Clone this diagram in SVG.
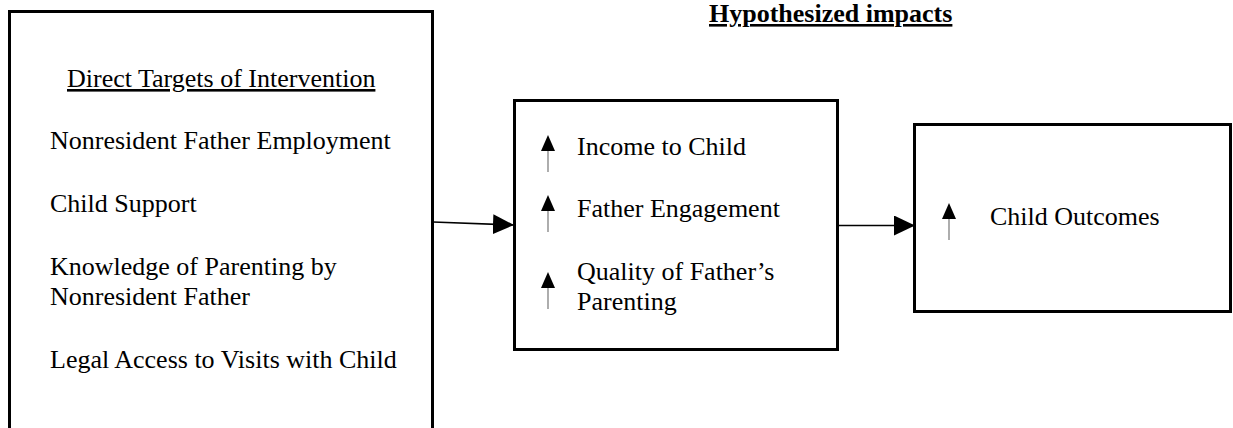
<svg xmlns="http://www.w3.org/2000/svg" width="1233" height="428" viewBox="0 0 1233 428">
<style>
.box{fill:#fff;stroke:#000;stroke-width:3}
.t{font-family:"Liberation Serif","Times New Roman",serif;font-size:26px;fill:#000}
.u{text-decoration:underline}
.b{font-weight:bold}
.conn{stroke:#000;stroke-width:1.6;fill:none}
.up{stroke:#777;stroke-width:1.2}
</style>
<defs>
<marker id="ah" markerUnits="userSpaceOnUse" markerWidth="22" markerHeight="22" refX="21" refY="10" orient="auto">
<path d="M0,0 L21,10 L0,20 Z" fill="#000"/>
</marker>
<g id="uparrow">
<line class="up" x1="0" y1="14" x2="0" y2="37"/>
<path d="M-7,16 L0,0 L7,16 Z" fill="#000"/>
</g>
</defs>
<rect width="1233" height="428" fill="#fff"/>
<text id="heading" class="t b u" x="709" y="22">Hypothesized impacts</text>
<g id="connectors">
<path class="conn" d="M433,222 L514,225" marker-end="url(#ah)"/>
<path class="conn" d="M838,225.5 L915,225.5" marker-end="url(#ah)"/>
</g>
<g id="targets">
<rect class="box" x="9.5" y="11.5" width="423" height="430"/>
<text class="t u" x="67" y="87">Direct Targets of Intervention</text>
<text class="t" x="50" y="149">Nonresident Father Employment</text>
<text class="t" x="50" y="212">Child Support</text>
<text class="t" x="50" y="275">Knowledge of Parenting by</text>
<text class="t" x="50" y="305">Nonresident Father</text>
<text class="t" x="50" y="368">Legal Access to Visits with Child</text>
</g>
<g id="impacts">
<rect class="box" x="514.5" y="100.5" width="323" height="249"/>
<use href="#uparrow" x="548" y="135"/>
<text class="t" x="577" y="155">Income to Child</text>
<use href="#uparrow" x="548" y="195"/>
<text class="t" x="577" y="217">Father Engagement</text>
<use href="#uparrow" x="548" y="272"/>
<text class="t" x="577" y="280">Quality of Father’s</text>
<text class="t" x="577" y="310">Parenting</text>
</g>
<g id="outcomes">
<rect class="box" x="914.5" y="124.5" width="316" height="187"/>
<use href="#uparrow" x="949" y="203"/>
<text class="t" x="990" y="225">Child Outcomes</text>
</g>
</svg>
